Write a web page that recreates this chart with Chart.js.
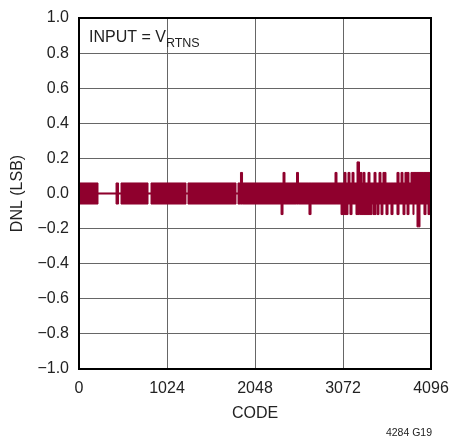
<!DOCTYPE html>
<html>
<head>
<meta charset="utf-8">
<script src="https://cdn.jsdelivr.net/npm/chart.js@4.4.1/dist/chart.umd.min.js"></script>
<style>
html,body{margin:0;padding:0;background:#fff;}
#wrap{width:450px;height:438px;position:relative;}
</style>
</head>
<body>
<div id="wrap"><canvas id="c" width="450" height="438"></canvas></div>
<script>
// Data (segment start codes, DNL envelope in LSB)
const codes  = [0,221,431,460,489,803,838,1245,1268,1827,1850,1879,1903,2351,2374,2397,2531,2554,2676,2700,2979,3002,3049,3084,3107,3130,3153,3177,3200,3223,3235,3264,3270,3293,3305,3328,3363,3386,3409,3421,3433,3456,3468,3491,3514,3537,3572,3596,3630,3654,3700,3724,3747,3770,3793,3817,3840,3863,3886,3898,3933,3968,4014,4038,4061,4084,4095];
const dnlMax = [0.06,0.003,0.06,0.003,0.06,0.003,0.06,0.003,0.06,0.003,0.06,0.12,0.06,0.06,0.12,0.06,0.12,0.06,0.06,0.06,0.12,0.06,0.06,0.12,0.06,0.12,0.06,0.12,0.06,0.06,0.18,0.06,0.12,0.06,0.12,0.06,0.12,0.06,0.06,0.06,0.12,0.06,0.06,0.12,0.06,0.12,0.06,0.06,0.06,0.06,0.12,0.06,0.12,0.06,0.12,0.12,0.06,0.12,0.12,0.12,0.12,0.12,0.12,0.12,0.12,0.12,0.12];
const dnlMin = [-0.06,-0.003,-0.06,-0.003,-0.06,-0.003,-0.06,-0.003,-0.06,-0.003,-0.06,-0.06,-0.06,-0.12,-0.06,-0.06,-0.06,-0.06,-0.12,-0.06,-0.06,-0.06,-0.12,-0.12,-0.12,-0.06,-0.12,-0.06,-0.06,-0.12,-0.12,-0.12,-0.12,-0.12,-0.12,-0.12,-0.12,-0.12,-0.06,-0.12,-0.12,-0.06,-0.12,-0.06,-0.12,-0.06,-0.12,-0.06,-0.12,-0.06,-0.12,-0.06,-0.06,-0.12,-0.06,-0.12,-0.06,-0.06,-0.12,-0.06,-0.19,-0.06,-0.12,-0.06,-0.12,-0.12,-0.12];
const xTicks = [0,1024,2048,3072,4096];
const xTitle = 'CODE';
const yTitle = 'DNL (LSB)';
const noteMain = 'INPUT = V';
const noteSub = 'RTNS';
const figId = '4284 G19';

const COLOR = '#8f002d';
const FONT = "'Liberation Sans',Arial,sans-serif";

const upper = codes.map((c,i)=>({x:c,y:dnlMax[i]}));
const lower = codes.map((c,i)=>({x:c,y:dnlMin[i]}));

function fmt(v){
  const s = Math.abs(v).toFixed(1);
  return (v < -1e-9 ? '\u2212' : '') + s;
}

const overlay = {
  id:'overlay',
  afterDraw(chart){
    const {ctx, chartArea:a} = chart;
    ctx.save();
    ctx.strokeStyle = '#000';
    ctx.lineWidth = 2;
    ctx.strokeRect(a.left, a.top, a.right-a.left, a.bottom-a.top);
    ctx.fillStyle = '#222';
    ctx.textBaseline = 'alphabetic';
    ctx.textAlign = 'left';
    ctx.font = '16px ' + FONT;
    const x0 = 89;
    ctx.fillText(noteMain, x0, 42);
    const w = ctx.measureText(noteMain).width;
    ctx.font = '12.5px ' + FONT;
    ctx.fillText(noteSub, x0 + w, 47);
    ctx.font = '10.5px ' + FONT;
    ctx.textAlign = 'right';
    ctx.fillText(figId, 432, 436);
    ctx.restore();
  }
};

new Chart(document.getElementById('c'), {
  type:'line',
  data:{
    datasets:[
      {data:upper, stepped:true, borderColor:COLOR, backgroundColor:COLOR, borderWidth:1, pointRadius:0, fill:'+1'},
      {data:lower, stepped:true, borderColor:COLOR, backgroundColor:COLOR, borderWidth:1, pointRadius:0, fill:false}
    ]
  },
  options:{
    responsive:false,
    animation:false,
    events:[],
    layout:{padding:{left:0,right:19,top:18,bottom:0}},
    plugins:{legend:{display:false}, tooltip:{enabled:false}},
    scales:{
      x:{
        type:'linear', min:0, max:4096,
        afterBuildTicks(s){ s.ticks = xTicks.map(v=>({value:v})); },
        afterFit(s){ s.height = 69; s.paddingLeft = 0; s.paddingRight = 0; },
        grid:{color:'#666', lineWidth:1, drawTicks:false},
        border:{display:false},
        ticks:{color:'#222', font:{family:FONT,size:16}, padding:10, maxRotation:0, autoSkip:false, callback:(v)=>String(v)},
        title:{display:true, text:xTitle, color:'#222', font:{family:FONT,size:16}, padding:{top:0,bottom:15}}
      },
      y:{
        min:-1, max:1,
        ticks:{stepSize:0.2, color:'#222', font:{family:FONT,size:16}, padding:10, callback:(v)=>fmt(v)},
        afterFit(s){ s.width = 79; s.paddingTop = 0; s.paddingBottom = 0; },
        grid:{color:'#666', lineWidth:1, drawTicks:false},
        border:{display:false},
        title:{display:true, text:yTitle, color:'#222', font:{family:FONT,size:16}, padding:{top:8,bottom:0}}
      }
    }
  },
  plugins:[overlay]
});
</script>
</body>
</html>
